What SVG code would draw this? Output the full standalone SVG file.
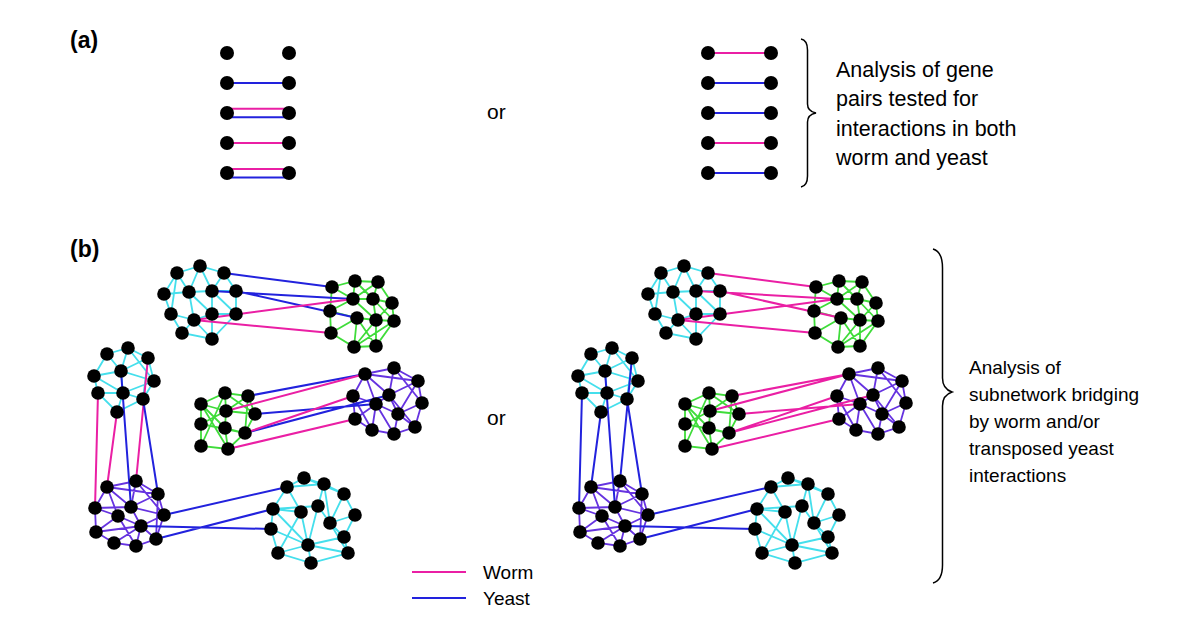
<svg xmlns="http://www.w3.org/2000/svg" xmlns:xlink="http://www.w3.org/1999/xlink" width="1200" height="638" viewBox="0 0 1200 638">
<style>
.t{font-family:"Liberation Sans",Arial,sans-serif;fill:#000}
.lbl{font-weight:bold;font-size:23px}
.cy{stroke:#45dfec;stroke-width:1.8;fill:none}
.gr{stroke:#3fdc3a;stroke-width:1.8;fill:none}
.pu{stroke:#6633e0;stroke-width:1.8;fill:none}
.w{stroke:#ea1fa4;stroke-width:2;fill:none}
.y{stroke:#2222dd;stroke-width:2;fill:none}
.brace{stroke:#000;stroke-width:1.5;fill:none}
circle{fill:#000}
</style>
<rect width="1200" height="638" fill="#fff"/>

<text class="t lbl" x="70" y="48">(a)</text>
<text class="t lbl" x="70" y="257">(b)</text>
<text class="t" x="487" y="119" font-size="21">or</text>
<text class="t" x="487" y="425" font-size="21">or</text>

<g id="connectors">
  <g id="pairs-a">
    <path class="y" d="M227 83H289"/>
    <path class="w" d="M227 108.7H289"/>
    <path class="y" d="M227 117.3H289"/>
    <path class="w" d="M227 143H289"/>
    <path class="w" d="M227 169H289"/>
    <path class="y" d="M227 177.5H289"/>
    <path class="w" d="M708 53H771"/>
    <path class="y" d="M708 83H771"/>
    <path class="y" d="M708 113H771"/>
    <path class="w" d="M708 143H771"/>
    <path class="y" d="M708 173H771"/>
  </g>
  <g id="intra-left">
    <path id="eA" class="cy" d="M177 273L200 266L224 273L236 291L236 314L212 339L182 333L171 314L164 294L177 273M177 273L189 292M177 273L171 314M200 266L189 292M200 266L212 291M224 273L212 291M164 294L189 292L212 291L236 291M189 292L194 320M189 292L212 314M212 291L212 314M194 320L212 314L236 314M171 314L194 320L182 333M212 314L212 339M194 320L212 339M212 291L236 314"/>
    <path id="eB" class="gr" d="M332 287L355 281L378 282L392 303L394 321L376 346L354 347L331 333L330 311L332 287M332 287L353 299M355 281L353 299M355 281L373 299M378 282L373 299M378 282L353 299M353 299L373 299L392 303M330 311L353 299M353 299L376 320M373 299L376 320M373 299L394 321M392 303L376 320M330 311L357 318L376 320L394 321M331 333L357 318M357 318L354 347M357 318L376 346M376 320L376 346M376 320L354 347M354 347L394 321"/>
    <path id="eC" class="cy" d="M107 354L128 348L148 358L154 381L143 399L117 412L98 393L94 376L107 354M107 354L121 371M128 348L121 371M148 358L121 371M94 376L121 371L154 381M121 371L123 393M98 393L123 393L143 399M94 376L123 393M123 393L117 412M148 358L143 399M154 381L123 393M128 348L154 381"/>
    <path id="eD" class="pu" d="M107 487L136 481L158 494L164 515L156 539L136 546L114 543L96 532L95 508L107 487M107 487L158 494M107 487L131 507M107 487L118 516M136 481L131 507M136 481L164 515M158 494L131 507M95 508L131 507M95 508L118 516M131 507L141 526M131 507L164 515M118 516L141 526M118 516L136 546M96 532L141 526M141 526L164 515M141 526L156 539M141 526L136 546M96 532L118 516M114 543L141 526M156 539L158 494"/>
    <path id="eE" class="gr" d="M201 404L225 393L248 396L255 414L245 433L228 449L201 446L201 424L201 404M201 404L226 411M225 393L226 411M248 396L226 411M225 393L255 414M226 411L255 414M226 411L201 424M226 411L225 428M201 404L225 428M225 393L201 446M225 428L228 449M248 396L245 433M225 428L245 433M201 424L245 433M201 404L228 449"/>
    <path id="eF" class="pu" d="M365 374L394 368L418 381L422 403L415 427L394 434L372 430L355 419L353 396L365 374M365 374L389 395M365 374L376 404M365 374L418 381M394 368L389 395M394 368L422 403M418 381L389 395M418 381L398 414M353 396L376 404M389 395L376 404M389 395L398 414M376 404L372 430M376 404L394 434M376 404L398 414M398 414L415 427M398 414L394 434M422 403L398 414M355 419L376 404M389 395L415 427M353 396L372 430"/>
    <path id="eG" class="cy" d="M287 487L304 478L324 484L344 494L355 515L344 537L348 553L311 563L278 553L271 529L273 509L287 487M287 487L324 484M304 478L344 494M324 484L318 506M324 484L330 523M273 509L301 512M273 509L318 506M301 512L308 545M318 506L308 545M318 506L330 523M330 523L344 537M330 523L355 515M271 529L308 545M273 509L308 545M308 545L344 537M308 545L348 553M308 545L278 553M308 545L311 563M301 512L278 553M330 523L348 553M344 494L330 523M287 487L301 512"/>
  </g>
  <use id="intra-right" href="#intra-left" xlink:href="#intra-left" transform="translate(484 0)"/>
  <g id="bridges-left">
    <path class="y" d="M224 273L332 287M212 291L353 299M236 291L357 318"/>
    <path class="w" d="M194 320L353 299M194 320L331 333"/>
    <path class="w" d="M98 393L95 508M117 412L107 487M148 358L136 481"/>
    <path class="y" d="M121 371L131 507M143 399L158 494"/>
    <path class="y" d="M248 396L365 374M255 414L376 404M245 433L389 395"/>
    <path class="w" d="M226 411L365 374M245 433L353 396M228 449L355 419"/>
    <path class="y" d="M164 515L287 487M156 539L273 509M141 526L271 529"/>
  </g>
  <g id="bridges-right" transform="translate(484 0)">
    <path class="w" d="M224 273L332 287M212 291L353 299M236 291L357 318M194 320L353 299M194 320L331 333"/>
    <path class="y" d="M98 393L95 508M117 412L107 487M148 358L136 481M121 371L131 507M143 399L158 494"/>
    <path class="w" d="M248 396L365 374M255 414L376 404M245 433L389 395M226 411L365 374M245 433L353 396M228 449L355 419"/>
    <path class="y" d="M164 515L287 487M156 539L273 509M141 526L271 529"/>
  </g>
</g>

<g id="nodes-a">
  <g id="pair-a-left">
    <circle cx="227" cy="53" r="7"/><circle cx="289" cy="53" r="7"/>
    <circle cx="227" cy="83" r="7"/><circle cx="289" cy="83" r="7"/>
    <circle cx="227" cy="113" r="7"/><circle cx="289" cy="113" r="7"/>
    <circle cx="227" cy="143" r="7"/><circle cx="289" cy="143" r="7"/>
    <circle cx="227" cy="173" r="7"/><circle cx="289" cy="173" r="7"/>
  </g>
  <g id="pair-a-right">
    <circle cx="708" cy="53" r="7"/><circle cx="771" cy="53" r="7"/>
    <circle cx="708" cy="83" r="7"/><circle cx="771" cy="83" r="7"/>
    <circle cx="708" cy="113" r="7"/><circle cx="771" cy="113" r="7"/>
    <circle cx="708" cy="143" r="7"/><circle cx="771" cy="143" r="7"/>
    <circle cx="708" cy="173" r="7"/><circle cx="771" cy="173" r="7"/>
  </g>
</g>

<g id="nodes-b-left">
  <g id="cluster-A">
    <circle cx="177" cy="273" r="6.8"/><circle cx="200" cy="266" r="6.8"/><circle cx="224" cy="273" r="6.8"/><circle cx="164" cy="294" r="6.8"/><circle cx="189" cy="292" r="6.8"/><circle cx="212" cy="291" r="6.8"/><circle cx="236" cy="291" r="6.8"/><circle cx="171" cy="314" r="6.8"/><circle cx="194" cy="320" r="6.8"/><circle cx="212" cy="314" r="6.8"/><circle cx="236" cy="314" r="6.8"/><circle cx="182" cy="333" r="6.8"/><circle cx="212" cy="339" r="6.8"/>
  </g>
  <g id="cluster-B">
    <circle cx="332" cy="287" r="6.8"/><circle cx="355" cy="281" r="6.8"/><circle cx="378" cy="282" r="6.8"/><circle cx="353" cy="299" r="6.8"/><circle cx="373" cy="299" r="6.8"/><circle cx="392" cy="303" r="6.8"/><circle cx="330" cy="311" r="6.8"/><circle cx="357" cy="318" r="6.8"/><circle cx="376" cy="320" r="6.8"/><circle cx="394" cy="321" r="6.8"/><circle cx="331" cy="333" r="6.8"/><circle cx="354" cy="347" r="6.8"/><circle cx="376" cy="346" r="6.8"/>
  </g>
  <g id="cluster-C">
    <circle cx="107" cy="354" r="6.8"/><circle cx="128" cy="348" r="6.8"/><circle cx="148" cy="358" r="6.8"/><circle cx="94" cy="376" r="6.8"/><circle cx="121" cy="371" r="6.8"/><circle cx="154" cy="381" r="6.8"/><circle cx="98" cy="393" r="6.8"/><circle cx="123" cy="393" r="6.8"/><circle cx="143" cy="399" r="6.8"/><circle cx="117" cy="412" r="6.8"/>
  </g>
  <g id="cluster-D">
    <circle cx="107" cy="487" r="6.8"/><circle cx="136" cy="481" r="6.8"/><circle cx="158" cy="494" r="6.8"/><circle cx="95" cy="508" r="6.8"/><circle cx="131" cy="507" r="6.8"/><circle cx="118" cy="516" r="6.8"/><circle cx="164" cy="515" r="6.8"/><circle cx="96" cy="532" r="6.8"/><circle cx="141" cy="526" r="6.8"/><circle cx="114" cy="543" r="6.8"/><circle cx="136" cy="546" r="6.8"/><circle cx="156" cy="539" r="6.8"/>
  </g>
  <g id="cluster-E">
    <circle cx="201" cy="404" r="6.8"/><circle cx="225" cy="393" r="6.8"/><circle cx="248" cy="396" r="6.8"/><circle cx="226" cy="411" r="6.8"/><circle cx="201" cy="424" r="6.8"/><circle cx="255" cy="414" r="6.8"/><circle cx="225" cy="428" r="6.8"/><circle cx="245" cy="433" r="6.8"/><circle cx="201" cy="446" r="6.8"/><circle cx="228" cy="449" r="6.8"/>
  </g>
  <g id="cluster-F">
    <circle cx="365" cy="374" r="6.8"/><circle cx="394" cy="368" r="6.8"/><circle cx="418" cy="381" r="6.8"/><circle cx="353" cy="396" r="6.8"/><circle cx="389" cy="395" r="6.8"/><circle cx="376" cy="404" r="6.8"/><circle cx="422" cy="403" r="6.8"/><circle cx="355" cy="419" r="6.8"/><circle cx="398" cy="414" r="6.8"/><circle cx="372" cy="430" r="6.8"/><circle cx="394" cy="434" r="6.8"/><circle cx="415" cy="427" r="6.8"/>
  </g>
  <g id="cluster-G">
    <circle cx="287" cy="487" r="6.8"/><circle cx="304" cy="478" r="6.8"/><circle cx="324" cy="484" r="6.8"/><circle cx="344" cy="494" r="6.8"/><circle cx="273" cy="509" r="6.8"/><circle cx="301" cy="512" r="6.8"/><circle cx="318" cy="506" r="6.8"/><circle cx="355" cy="515" r="6.8"/><circle cx="330" cy="523" r="6.8"/><circle cx="271" cy="529" r="6.8"/><circle cx="344" cy="537" r="6.8"/><circle cx="308" cy="545" r="6.8"/><circle cx="278" cy="553" r="6.8"/><circle cx="348" cy="553" r="6.8"/><circle cx="311" cy="563" r="6.8"/>
  </g>
</g>
<use id="nodes-b-right" href="#nodes-b-left" xlink:href="#nodes-b-left" transform="translate(484 0)"/>

<g id="legend">
  <path class="w" d="M412 572H466" stroke-width="2.4"/>
  <path class="y" d="M412 598H466" stroke-width="2.4"/>
  <text class="t" x="483" y="579" font-size="19">Worm</text>
  <text class="t" x="483" y="605" font-size="19">Yeast</text>
</g>

<g id="brace-a">
  <path class="brace" d="M801 39C806 40 807.5 44 807.5 50L807.5 104C807.5 109 811 112 816 113C811 114 807.5 117 807.5 122L807.5 176C807.5 182 806 186 801 187"/>
  <text class="t" font-size="21.5"><tspan x="836" y="77">Analysis of gene</tspan><tspan x="836" y="106.4">pairs tested for</tspan><tspan x="836" y="135.8">interactions in both</tspan><tspan x="836" y="165.2">worm and yeast</tspan></text>
</g>
<g id="brace-b">
  <path class="brace" d="M933 249C940 251 942.5 258 942.5 268L942.5 378C942.5 386 946 390 952 392C946 394 942.5 398 942.5 406L942.5 565C942.5 575 940 581 933 583"/>
  <text class="t" font-size="19"><tspan x="969" y="374">Analysis of</tspan><tspan x="969" y="401">subnetwork bridging</tspan><tspan x="969" y="428">by worm and/or</tspan><tspan x="969" y="455">transposed yeast</tspan><tspan x="969" y="482">interactions</tspan></text>
</g>
</svg>
